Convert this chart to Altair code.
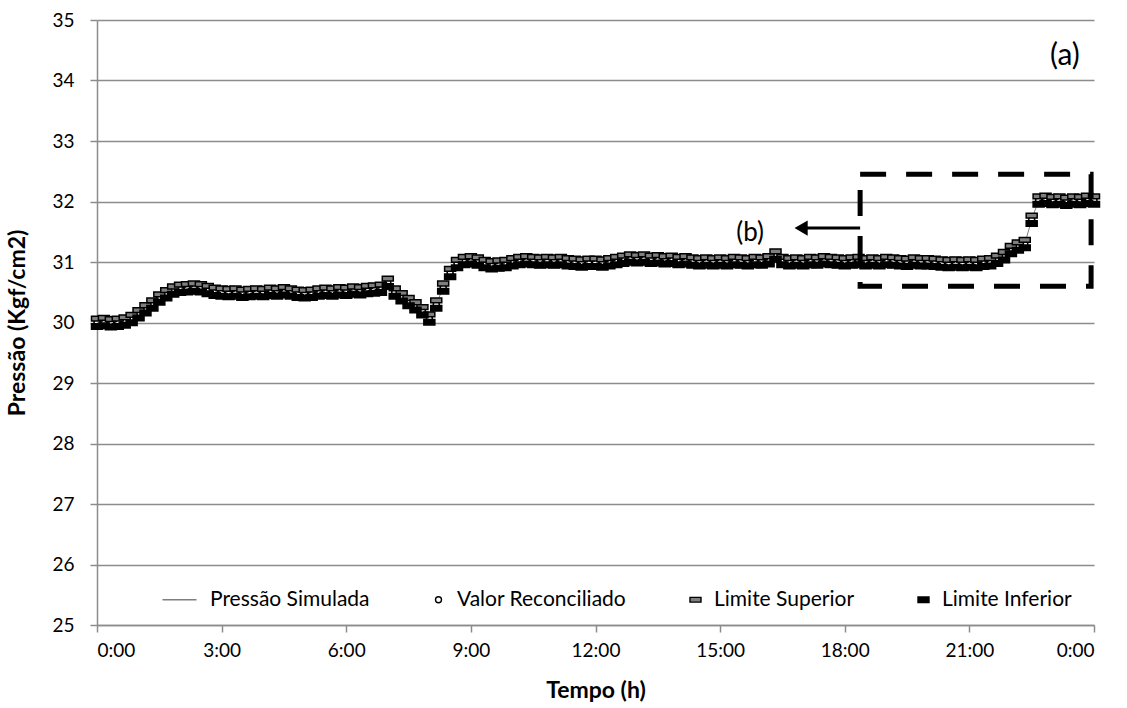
import altair as alt
import pandas as pd

# ---- data (10-minute steps) ----
tempo_h = [i / 6 for i in range(145)]
reconciliado = [
    30.00, 30.01, 29.99, 30.00, 30.02, 30.06,
    30.14, 30.22, 30.30, 30.40, 30.47, 30.53,
    30.56, 30.57, 30.58, 30.57, 30.54, 30.51,
    30.50, 30.49, 30.50, 30.48, 30.49, 30.50,
    30.49, 30.51, 30.50, 30.52, 30.50, 30.48,
    30.47, 30.48, 30.50, 30.51, 30.50, 30.52,
    30.51, 30.53, 30.52, 30.54, 30.55, 30.56,
    30.66, 30.50, 30.42, 30.34, 30.27, 30.19,
    30.07, 30.30, 30.58, 30.82, 30.97, 31.02,
    31.03, 31.01, 30.97, 30.95, 30.96, 30.97,
    31.00, 31.02, 31.03, 31.02, 31.01, 31.02,
    31.01, 31.02, 31.00, 30.99, 30.98, 30.99,
    30.99, 30.98, 31.00, 31.02, 31.04, 31.06,
    31.05, 31.06, 31.04, 31.05, 31.03, 31.04,
    31.02, 31.03, 31.01, 31.00, 31.01, 31.00,
    31.01, 31.00, 31.02, 31.01, 31.00, 31.02,
    31.01, 31.03, 31.11, 31.02, 31.00, 31.01,
    31.00, 31.02, 31.01, 31.03, 31.02, 31.01,
    31.00, 31.01, 31.02, 31.00, 31.01, 31.00,
    31.02, 31.01, 31.00, 30.99, 31.01, 31.00,
    31.00, 30.99, 30.98, 30.97, 30.98, 30.97,
    30.98, 30.97, 30.99, 31.00, 31.04, 31.10,
    31.20, 31.26, 31.30, 31.70, 32.02, 32.03,
    32.01, 32.02, 32.00, 32.02, 32.01, 32.03,
    32.02,
]
simulada = reconciliado
tolerancia = 0.065  # half-width of the reconciliation limits

series_names = ["Pressão Simulada", "Valor Reconciliado", "Limite Superior", "Limite Inferior"]
x_ticks = [0, 3, 6, 9, 12, 15, 18, 21, 24]
y_ticks = [25, 26, 27, 28, 29, 30, 31, 32, 33, 34, 35]

# annotation box "(b)" and arrow
box_t = [18.37, 23.93]
box_p = [30.60, 32.45]
arrow_t = [16.95, 18.37]
arrow_p = [31.56]
labels_txt = ["(a)", "(b)"]
labels_t = [23.30, 15.72]
labels_p = [34.40, 31.48]
labels_size = [30, 26]

# ---- frames ----
df_line = pd.DataFrame({"t": tempo_h, "p": simulada})
rows = []
for t, v in zip(tempo_h, reconciliado):
    rows.append({"t": t, "p": v, "serie": "Valor Reconciliado"})
for t, v in zip(tempo_h, reconciliado):
    rows.append({"t": t, "p": v + tolerancia, "serie": "Limite Superior"})
for t, v in zip(tempo_h, reconciliado):
    rows.append({"t": t, "p": v - tolerancia, "serie": "Limite Inferior"})
df_pts = pd.DataFrame(rows)
df_pts["ordem"] = range(len(df_pts))

df_box = pd.DataFrame({"t": [box_t[0]], "t2": [box_t[1]], "p": [box_p[0]], "p2": [box_p[1]]})
df_arrow = pd.DataFrame({"t": [arrow_t[0]], "t2": [arrow_t[1]], "p": arrow_p})
df_head = pd.DataFrame({"t": [arrow_t[0]], "p": arrow_p})
df_lab = pd.DataFrame({"t": labels_t, "p": labels_p, "txt": labels_txt, "fs": labels_size})

FONT = "Lato"
GRID = "#8c8c8c"

xscale = alt.Scale(domain=[0, 24], nice=False, zero=False)
yscale = alt.Scale(domain=[25, 35], nice=False, zero=False)

x_axis = alt.Axis(
    values=x_ticks, labelExpr="(datum.value % 24) + ':00'", title="Tempo (h)",
    grid=False, tickSize=7, labelPadding=9, titleY=65, titleBaseline="middle",
)
y_axis = alt.Axis(
    values=y_ticks, title="Pressão (Kgf/cm2)", grid=True, tickSize=7,
    labelPadding=16, titleX=-80, titleBaseline="middle",
)
X = alt.X("t:Q", scale=xscale, axis=x_axis)
Y = alt.Y("p:Q", scale=yscale, axis=y_axis)

line = alt.Chart(df_line).mark_line(color="#7f7f7f", strokeWidth=1).encode(x=X, y=Y)

# symbol paths (unit = half of sqrt(size))
line_path = "M-5.8,0H1"
circle_path = "M0.6,0A0.6,0.6 0 1,1 -0.6,0A0.6,0.6 0 1,1 0.6,0Z"
dash_path = "M-1.1,-0.48H1.1V0.48H-1.1Z"
dash_bold_path = "M-1.1,-0.55H1.1V0.55H-1.1Z"

points = alt.Chart(df_pts).mark_point(filled=True, opacity=1, strokeWidth=1.5, size=100).encode(
    x=X, y=Y, order=alt.Order("ordem:Q"),
    shape=alt.Shape("serie:N", title=None, scale=alt.Scale(domain=series_names, range=[line_path, circle_path, dash_path, dash_bold_path])),
    fill=alt.Fill("serie:N", title=None, scale=alt.Scale(domain=series_names, range=["#7f7f7f", "#ffffff", "#7f7f7f", "#000000"])),
    stroke=alt.Stroke("serie:N", title=None, scale=alt.Scale(domain=series_names, range=["#7f7f7f", "#000000", "#000000", "#000000"])),
)

box = alt.Chart(df_box).mark_rect(fillOpacity=0, stroke="black", strokeWidth=5, strokeDash=[26, 20]).encode(
    x=X, x2="t2:Q", y=Y, y2="p2:Q"
)
arrow = alt.Chart(df_arrow).mark_rule(color="black", strokeWidth=3).encode(x=X, x2="t2:Q", y=Y)
head = alt.Chart(df_head).mark_point(shape="triangle-left", filled=True, color="black", opacity=1, size=230).encode(x=X, y=Y)
texts = alt.Chart(df_lab).mark_text(font=FONT, color="black", align="center", baseline="middle").encode(
    x=X, y=Y, text="txt:N", size=alt.Size("fs:Q", scale=None, legend=None)
)

chart = alt.layer(line, points, box, arrow, head, texts).properties(
    width=997, height=605, autosize="none",
    padding={"left": 97, "top": 20, "right": 33, "bottom": 83},
    background="white",
).configure_view(stroke=None).configure_axis(
    labelFont=FONT, labelFontSize=19, labelColor="black",
    titleFont=FONT, titleFontSize=23, titleFontWeight="bold", titleColor="black",
    domainColor=GRID, tickColor=GRID, gridColor=GRID, domainWidth=1.5, gridWidth=1.3, tickWidth=1.5,
).configure_legend(
    orient="none", legendX=84, legendY=569, direction="horizontal",
    labelFont=FONT, labelFontSize=21, labelColor="black", labelOffset=8, labelLimit=400,
    columnPadding=58, symbolStrokeWidth=1.4, symbolSize=100,
)

chart.save("out.html", embed_options={"renderer": "svg", "actions": False})
